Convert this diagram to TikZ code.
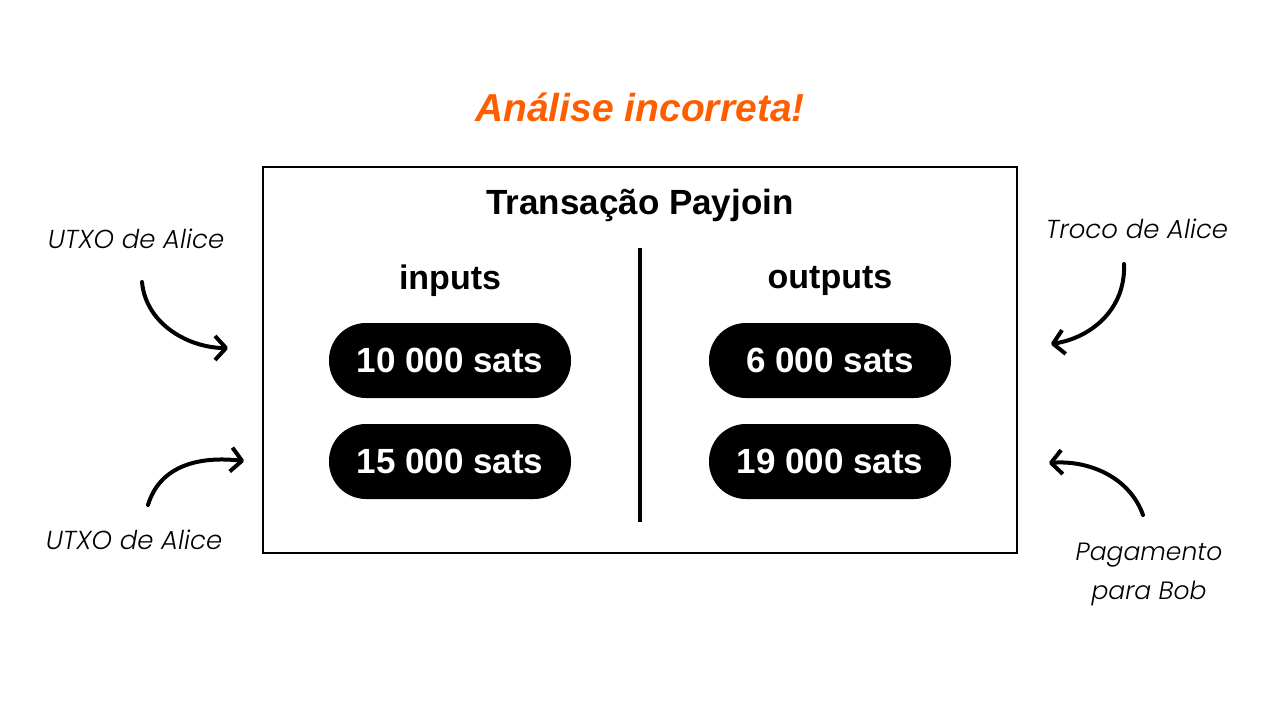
\documentclass[tikz,border=0pt]{standalone}
\usepackage{fontspec}
\setmainfont{Liberation Sans}
\newfontfamily\notefont{Poppins Light Italic}
\usetikzlibrary{arrows.meta}
\usetikzlibrary{positioning}
\definecolor{warnorange}{RGB}{255,94,0}

\begin{document}
\begin{tikzpicture}[x=1pt, y=-1pt,
    satsbox/.style={fill=black, text=white, rounded corners=37pt, minimum width=242pt, minimum height=75pt, inner sep=0pt, font=\fontsize{35}{38}\selectfont\bfseries},
    note/.style={font=\fontsize{26}{39}\selectfont\notefont, align=center},
    curvy/.style={line width=4pt, line cap=round, -{Straight Barb[length=11pt, width=24pt, line join=round]}}]
          \useasboundingbox (0, 0) rectangle (1280, 720);

          \node[text=warnorange, font=\fontsize{39}{44}\selectfont\bfseries\itshape] (title) at (640, 107) {Análise incorreta!};

          \node[draw, line width=1.5pt, minimum width=754pt, minimum height=386pt] (tx) at (640, 360) {};
          \node[font=\fontsize{35}{40}\selectfont\bfseries] (txname) at (640, 205) {Transação Payjoin};
          \draw[line width=3.5pt] (640, 248) coordinate (divtop) -- (640, 522) coordinate (divbot);

          \node[font=\fontsize{34}{38}\selectfont\bfseries] (inputs) at (450, 281) {inputs};
          \node[font=\fontsize{34}{38}\selectfont\bfseries] (outputs) at (830, 281) {outputs};

          \node[satsbox] (in1) at (450, 360.5) {10 000 sats};
          \node[satsbox] (in2) at (450, 461.5) {15 000 sats};
          \node[satsbox] (out1) at (830, 360.5) {6 000 sats};
          \node[satsbox] (out2) at (830, 461.5) {19 000 sats};

          \node[note] (utxo1) at (136, 239) {UTXO de Alice};
          \node[note] (utxo2) at (134, 540) {UTXO de Alice};
          \node[note] (troco) at (1137, 229) {Troco de Alice};
          \node[note, font=\fontsize{25}{39}\selectfont\notefont] (pag) at (1149, 574) {Pagamento\\para Bob};

          \coordinate (a1) at (142, 282);
          \coordinate (b1) at (228, 348);
          \coordinate (a2) at (148, 505);
          \coordinate (b2) at (244, 461);
          \coordinate (a3) at (1124, 264);
          \coordinate (b3) at (1051, 344);
          \coordinate (a4) at (1143, 515);
          \coordinate (b4) at (1049, 463);

          \draw[curvy] (a1) .. controls (146, 325) and (190, 348) .. (b1);
          \draw[curvy] (a2) .. controls (160, 465) and (200, 456) .. (b2);
          \draw[curvy] (a3) .. controls (1126, 310) and (1090, 338) .. (b3);
          \draw[curvy] (a4) .. controls (1130, 478) and (1090, 460) .. (b4);
        \end{tikzpicture}
\end{document}
